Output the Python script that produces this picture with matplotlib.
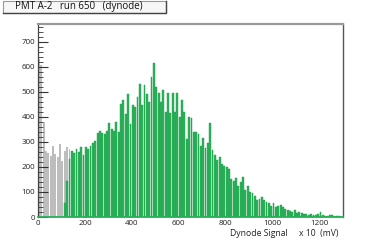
import matplotlib
matplotlib.use("Agg")
import matplotlib.pyplot as plt
from matplotlib.patches import Rectangle
from matplotlib.lines import Line2D
import numpy as np

plt.rcParams['font.family'] = ['Open Sans', 'DejaVu Sans']

title = "PMT A-2   run 650   (dynode)"
xlabel = "Dynode Signal     x 10  (mV)"
bin_width = 10
x_ticks = [0, 200, 400, 600, 800, 1000, 1200]
y_ticks = [0, 100, 200, 300, 400, 500, 600, 700]

# gray histogram (all events), bins starting at 0
gray_start = 0
gray_counts = [630, 605, 380, 265, 255, 245, 285, 250, 240, 290, 225,
               265, 280, 270, 265]

# green histogram (selected events), bins starting at 110
green_start = 110
green_counts = [
    55, 145, 230, 262, 255, 270, 258, 280, 248, 278,            # 110-200
    270, 285, 295, 305, 335, 345, 335, 330, 345, 375,           # 210-300
    350, 342, 380, 340, 450, 465, 410, 490, 370, 445,           # 310-400
    440, 480, 530, 445, 525, 490, 460, 560, 615, 520,           # 410-500
    495, 460, 505, 420, 495, 415, 495, 420, 495, 400,           # 510-600
    465, 420, 310, 397, 395, 340, 340, 330, 285, 315,           # 610-700
    275, 295, 375, 267, 247, 227, 240, 213, 205, 200,           # 710-800
    193, 150, 145, 157, 122, 140, 160, 109, 122, 100,           # 810-900
    97, 83, 67, 73, 80, 67, 60, 56, 43, 56,                     # 910-1000
    40, 42, 49, 40, 33, 29, 24, 20, 27, 16,                     # 1010-1100
    19, 16, 11, 13, 8, 11, 9, 8, 12, 19,                        # 1110-1200
    6, 5, 4, 6, 7, 3, 3, 2, 1,                                  # 1210-1290
]

W, H = 382, 242
fig = plt.figure(figsize=(W / 100, H / 100), dpi=100)
ax = fig.add_axes([38 / W, 1 - 217 / H, (343 - 38) / W, (217 - 24) / H])

gx = gray_start + bin_width * np.arange(len(gray_counts))
ax.bar(gx, gray_counts, width=bin_width * 0.85, align='edge',
       color='#bdbdbd', edgecolor='none', zorder=1)
grx = green_start + bin_width * np.arange(len(green_counts))
ax.bar(grx, green_counts, width=bin_width * 0.8, align='edge',
       color='#2db35c', edgecolor='#1c9e48', linewidth=0.3, zorder=2)

ax.set_xlim(0, 1300)
ax.set_ylim(0, 770)
ax.set_xticks(x_ticks)
ax.set_yticks(y_ticks)
ax.set_yticks(np.arange(0, 771, 20), minor=True)
ax.set_xticks(np.arange(0, 1301, 50), minor=True)

ax.tick_params(axis='y', which='major', direction='in', length=7, width=0.8,
               color='#333333', labelsize=5.8, labelcolor='#222222', pad=2)
ax.tick_params(axis='y', which='minor', direction='in', length=3.5, width=0.6,
               color='#333333')
ax.tick_params(axis='x', which='major', direction='in', length=3, width=0.8,
               color='#333333', labelsize=5.8, labelcolor='#222222', pad=2)
ax.tick_params(axis='x', which='minor', direction='in', length=0)

ax.spines['left'].set_color('#444444')
ax.spines['left'].set_linewidth(0.9)
ax.spines['bottom'].set_color('#27b055')
ax.spines['bottom'].set_linewidth(1.3)
ax.spines['right'].set_color('#555555')
ax.spines['right'].set_linewidth(1.0)
ax.spines['top'].set_color('#9a9a9a')
ax.spines['top'].set_linewidth(1.6)
for s in ax.spines.values():
    s.set_zorder(4)

fig.text(338 / W, 1 - 233 / H, xlabel, ha='right', va='center',
         fontsize=6.2, color='#222222')

# title box
bx0, bx1, by0, by1 = 3.5, 166, 0.8, 13
fig.patches.append(Rectangle((bx0 / W, 1 - by1 / H), (bx1 - bx0) / W,
                             (by1 - by0) / H, transform=fig.transFigure,
                             facecolor='#f7f7f7', edgecolor='#9a9a9a',
                             linewidth=0.8))
fig.lines.append(Line2D([bx0 / W, bx1 / W, bx1 / W],
                        [1 - by1 / H, 1 - by1 / H, 1 - by0 / H],
                        transform=fig.transFigure, color='#444444', lw=1.0))
fig.text(15 / W, 1 - 7 / H, title, ha='left', va='center',
         fontsize=7.0, color='#111111')

fig.savefig('out.png', dpi=100)
